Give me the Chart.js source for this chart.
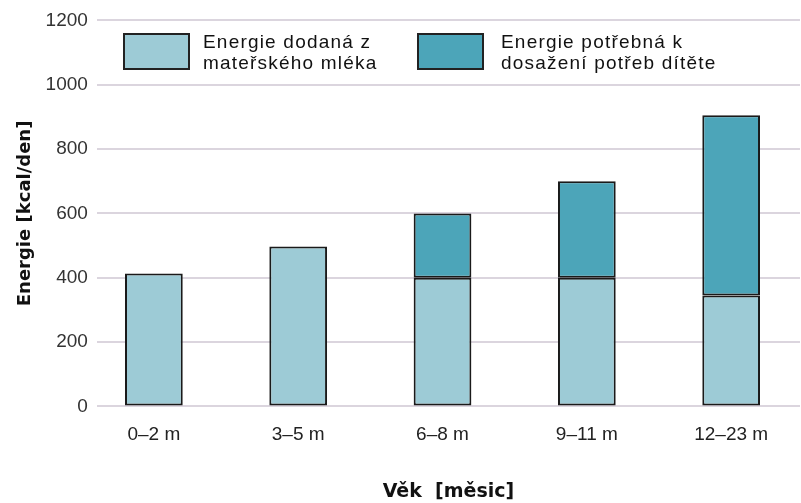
<!DOCTYPE html>
<html>
<head>
<meta charset="utf-8">
<script src="https://cdn.jsdelivr.net/npm/chart.js@4.4.1/dist/chart.umd.min.js"></script>
<style>
  body { margin: 0; background: #fff; }
  #wrap { position: relative; width: 801px; height: 503px; }
  #legend { position: absolute; left: 0; top: 0; width: 801px; font-family: 'Liberation Sans', Arial, sans-serif; }
  .box { position: absolute; top: 33px; width: 63px; height: 33px; border: 2px solid #222; }
  .txt { position: absolute; top: 31px; white-space: nowrap; font-size: 19px; line-height: 21px; color: #111; letter-spacing: 1.2px; }
</style>
</head>
<body>
<div id="wrap">
  <canvas id="c" width="801" height="503"></canvas>
  <div id="legend"></div>
</div>
<script>
// age groups (x axis)
const ages = ['0–2 m', '3–5 m', '6–8 m', '9–11 m', '12–23 m']
// kcal per day from breast milk
const milk = [413, 497, 400, 400, 345]
// kcal per day still needed on top of milk
const needed = [null, null, 200, 300, 560]
const seriesNames = [['Energie dodaná z', 'mateřského mléka'], ['Energie potřebná k', 'dosažení potřeb dítěte']]
const yTicks = [0, 200, 400, 600, 800, 1000, 1200]

const colors = ['#9dcbd6', '#4ca5b9']
const tickFont = "'Liberation Sans', Arial, sans-serif"

const chart = new Chart('c', {
  type: 'bar',
  data: {
    datasets: [
      {
        label: seriesNames[0].join(' '),
        data: milk.map((v, i) => ({x: i, y: v})),
        backgroundColor: colors[0],
        borderColor: '#1a1a1a',
        borderWidth: 2,
        borderSkipped: false
      },
      {
        label: seriesNames[1].join(' '),
        data: needed.map((v, i) => ({x: i, y: v})),
        backgroundColor: colors[1],
        borderColor: '#1a1a1a',
        borderWidth: 2,
        borderSkipped: false
      }
    ]
  },
  options: {
    responsive: false,
    animation: false,
    layout: { padding: { top: -4, right: 1, left: 7, bottom: 0 } },
    datasets: { bar: { barPercentage: 0.4, categoryPercentage: 1 } },
    plugins: {
      legend: { display: false },
      tooltip: { enabled: false }
    },
    scales: {
      x: {
        type: 'linear',
        stacked: true,
        offset: false,
        min: -0.395,
        max: 4.477,
        grid: { display: false, drawTicks: false },
        border: { display: false },
        afterBuildTicks: axis => { axis.ticks = ages.map((a, i) => ({value: i})) },
        ticks: {
          autoSkip: false,
          maxRotation: 0,
          padding: 17,
          color: '#222',
          font: { family: tickFont, size: 19 },
          callback: v => ages[v]
        },
        title: {
          display: true,
          text: 'Věk  [měsic]',
          color: '#111',
          font: { family: "'DejaVu Sans', sans-serif", size: 19, weight: 'bold' },
          padding: { top: 17, bottom: 0 }
        }
      },
      y: {
        stacked: true,
        min: 0,
        max: 1200,
        afterBuildTicks: axis => { axis.ticks = yTicks.map(v => ({value: v})) },
        grid: { color: '#dbd5de', lineWidth: 2, drawTicks: false },
        border: { display: false },
        ticks: {
          padding: 9,
          color: '#333',
          font: { family: tickFont, size: 19 },
          callback: v => String(v)
        },
        title: {
          display: true,
          text: 'Energie [kcal/den]',
          color: '#111',
          font: { family: "'DejaVu Sans', sans-serif", size: 18, weight: 'bold' },
          padding: { top: 8, bottom: 0 }
        }
      }
    }
  }
})

// html legend built from the datasets
const legendPos = [{box: 123, text: 203}, {box: 417, text: 501}]
const legend = document.getElementById('legend')
chart.data.datasets.forEach((ds, i) => {
  const box = document.createElement('div')
  box.className = 'box'
  box.style.left = legendPos[i].box + 'px'
  box.style.background = ds.backgroundColor
  const txt = document.createElement('div')
  txt.className = 'txt'
  txt.style.left = legendPos[i].text + 'px'
  txt.innerHTML = seriesNames[i].join('<br>')
  legend.append(box)
  legend.append(txt)
})
</script>
</body>
</html>
